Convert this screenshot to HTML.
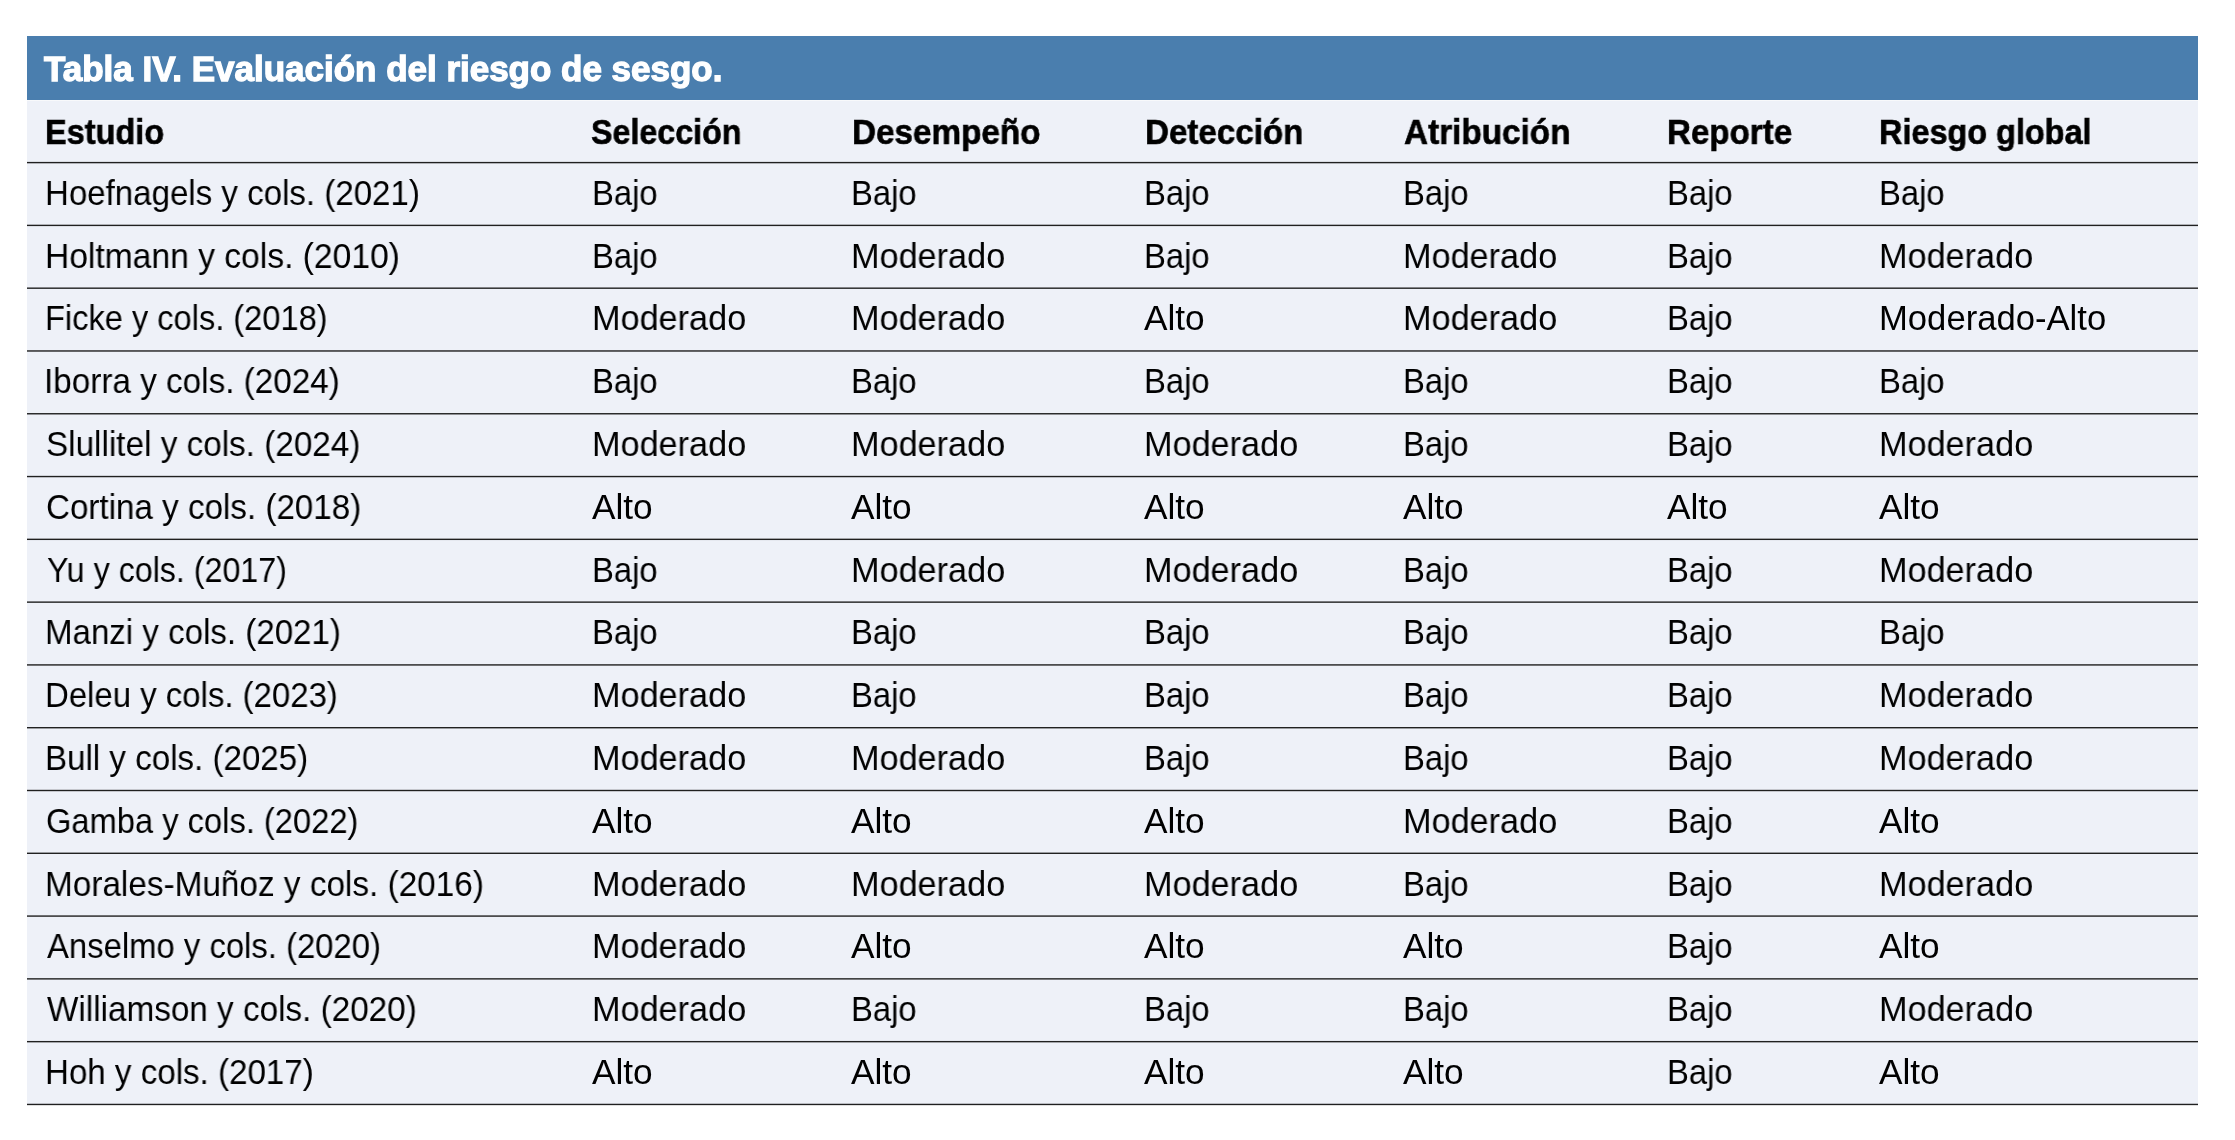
<!DOCTYPE html>
<html><head><meta charset="utf-8"><style>
html,body{margin:0;padding:0;background:#fff;width:2235px;height:1140px;overflow:hidden;}
body{position:relative;font-family:"Liberation Sans",sans-serif;color:#000;}
.blue{position:absolute;left:27px;top:36px;width:2171px;height:64px;background:#4a7eae;}
.bg{position:absolute;left:27px;top:101px;width:2171px;height:1003px;background:#eef1f8;}
.lines{position:absolute;left:0;top:0;}
.gap{position:absolute;left:27px;top:100px;width:2171px;height:1px;background:#f8f9fb;}
.t,.h,.ti{position:absolute;white-space:nowrap;line-height:0;transform-origin:0 0;will-change:transform;}
.t{font-size:34.5px;}
.h{font-size:34.5px;font-weight:bold;-webkit-text-stroke:0.6px #000;}
.ti{font-size:34.5px;font-weight:bold;color:#fff;-webkit-text-stroke:1.3px #fff;}
</style></head><body>
<div class="blue"></div><div class="gap"></div><div class="bg"></div>

<div class="ti" style="left:44.00px;top:68.65px;transform:scaleX(1.0138)">Tabla IV. Evaluación del riesgo de sesgo.</div>
<div class="h" style="left:44.92px;top:131.95px;transform:scaleX(0.9415)">Estudio</div>
<div class="h" style="left:591.07px;top:131.95px;transform:scaleX(0.9341)">Selección</div>
<div class="h" style="left:851.57px;top:131.95px;transform:scaleX(0.9637)">Desempeño</div>
<div class="h" style="left:1144.58px;top:131.95px;transform:scaleX(0.9608)">Detección</div>
<div class="h" style="left:1403.50px;top:131.95px;transform:scaleX(0.9653)">Atribución</div>
<div class="h" style="left:1666.68px;top:131.95px;transform:scaleX(0.9597)">Reporte</div>
<div class="h" style="left:1879.42px;top:131.95px;transform:scaleX(0.9398)">Riesgo global</div>
<svg class="lines" width="2235" height="1140" viewBox="0 0 2235 1140"><rect x="27" y="161.90" width="2171" height="1.40" fill="#202020"/><rect x="27" y="224.69" width="2171" height="1.40" fill="#202020"/><rect x="27" y="287.48" width="2171" height="1.40" fill="#202020"/><rect x="27" y="350.27" width="2171" height="1.40" fill="#202020"/><rect x="27" y="413.06" width="2171" height="1.40" fill="#202020"/><rect x="27" y="475.85" width="2171" height="1.40" fill="#202020"/><rect x="27" y="538.64" width="2171" height="1.40" fill="#202020"/><rect x="27" y="601.43" width="2171" height="1.40" fill="#202020"/><rect x="27" y="664.22" width="2171" height="1.40" fill="#202020"/><rect x="27" y="727.01" width="2171" height="1.40" fill="#202020"/><rect x="27" y="789.80" width="2171" height="1.40" fill="#202020"/><rect x="27" y="852.59" width="2171" height="1.40" fill="#202020"/><rect x="27" y="915.38" width="2171" height="1.40" fill="#202020"/><rect x="27" y="978.17" width="2171" height="1.40" fill="#202020"/><rect x="27" y="1040.96" width="2171" height="1.40" fill="#202020"/><rect x="27" y="1103.75" width="2171" height="1.40" fill="#202020"/></svg>
<div class="t" style="left:44.58px;top:192.85px;transform:scaleX(0.9582)">Hoefnagels y cols. (2021)</div>
<div class="t" style="left:591.60px;top:192.85px;transform:scaleX(0.9505)">Bajo</div>
<div class="t" style="left:851.10px;top:192.85px;transform:scaleX(0.9505)">Bajo</div>
<div class="t" style="left:1143.60px;top:192.85px;transform:scaleX(0.9505)">Bajo</div>
<div class="t" style="left:1403.10px;top:192.85px;transform:scaleX(0.9505)">Bajo</div>
<div class="t" style="left:1666.60px;top:192.85px;transform:scaleX(0.9505)">Bajo</div>
<div class="t" style="left:1879.10px;top:192.85px;transform:scaleX(0.9505)">Bajo</div>
<div class="t" style="left:44.55px;top:255.64px;transform:scaleX(0.9741)">Holtmann y cols. (2010)</div>
<div class="t" style="left:591.60px;top:255.64px;transform:scaleX(0.9505)">Bajo</div>
<div class="t" style="left:851.02px;top:255.64px;transform:scaleX(0.9924)">Moderado</div>
<div class="t" style="left:1143.60px;top:255.64px;transform:scaleX(0.9505)">Bajo</div>
<div class="t" style="left:1403.02px;top:255.64px;transform:scaleX(0.9924)">Moderado</div>
<div class="t" style="left:1666.60px;top:255.64px;transform:scaleX(0.9505)">Bajo</div>
<div class="t" style="left:1879.02px;top:255.64px;transform:scaleX(0.9924)">Moderado</div>
<div class="t" style="left:44.61px;top:318.43px;transform:scaleX(0.9448)">Ficke y cols. (2018)</div>
<div class="t" style="left:591.52px;top:318.43px;transform:scaleX(0.9924)">Moderado</div>
<div class="t" style="left:851.02px;top:318.43px;transform:scaleX(0.9924)">Moderado</div>
<div class="t" style="left:1143.50px;top:318.43px;transform:scaleX(1.0213)">Alto</div>
<div class="t" style="left:1403.02px;top:318.43px;transform:scaleX(0.9924)">Moderado</div>
<div class="t" style="left:1666.60px;top:318.43px;transform:scaleX(0.9505)">Bajo</div>
<div class="t" style="left:1878.99px;top:318.43px;transform:scaleX(1.0040)">Moderado-Alto</div>
<div class="t" style="left:43.61px;top:381.22px;transform:scaleX(0.9643)">Iborra y cols. (2024)</div>
<div class="t" style="left:591.60px;top:381.22px;transform:scaleX(0.9505)">Bajo</div>
<div class="t" style="left:851.10px;top:381.22px;transform:scaleX(0.9505)">Bajo</div>
<div class="t" style="left:1143.60px;top:381.22px;transform:scaleX(0.9505)">Bajo</div>
<div class="t" style="left:1403.10px;top:381.22px;transform:scaleX(0.9505)">Bajo</div>
<div class="t" style="left:1666.60px;top:381.22px;transform:scaleX(0.9505)">Bajo</div>
<div class="t" style="left:1879.10px;top:381.22px;transform:scaleX(0.9505)">Bajo</div>
<div class="t" style="left:45.54px;top:444.01px;transform:scaleX(0.9645)">Slullitel y cols. (2024)</div>
<div class="t" style="left:591.52px;top:444.01px;transform:scaleX(0.9924)">Moderado</div>
<div class="t" style="left:851.02px;top:444.01px;transform:scaleX(0.9924)">Moderado</div>
<div class="t" style="left:1143.52px;top:444.01px;transform:scaleX(0.9924)">Moderado</div>
<div class="t" style="left:1403.10px;top:444.01px;transform:scaleX(0.9505)">Bajo</div>
<div class="t" style="left:1666.60px;top:444.01px;transform:scaleX(0.9505)">Bajo</div>
<div class="t" style="left:1879.02px;top:444.01px;transform:scaleX(0.9924)">Moderado</div>
<div class="t" style="left:45.54px;top:506.80px;transform:scaleX(0.9613)">Cortina y cols. (2018)</div>
<div class="t" style="left:591.50px;top:506.80px;transform:scaleX(1.0213)">Alto</div>
<div class="t" style="left:851.00px;top:506.80px;transform:scaleX(1.0213)">Alto</div>
<div class="t" style="left:1143.50px;top:506.80px;transform:scaleX(1.0213)">Alto</div>
<div class="t" style="left:1403.00px;top:506.80px;transform:scaleX(1.0213)">Alto</div>
<div class="t" style="left:1666.50px;top:506.80px;transform:scaleX(1.0213)">Alto</div>
<div class="t" style="left:1879.00px;top:506.80px;transform:scaleX(1.0213)">Alto</div>
<div class="t" style="left:46.50px;top:569.59px;transform:scaleX(0.9336)">Yu y cols. (2017)</div>
<div class="t" style="left:591.60px;top:569.59px;transform:scaleX(0.9505)">Bajo</div>
<div class="t" style="left:851.02px;top:569.59px;transform:scaleX(0.9924)">Moderado</div>
<div class="t" style="left:1143.52px;top:569.59px;transform:scaleX(0.9924)">Moderado</div>
<div class="t" style="left:1403.10px;top:569.59px;transform:scaleX(0.9505)">Bajo</div>
<div class="t" style="left:1666.60px;top:569.59px;transform:scaleX(0.9505)">Bajo</div>
<div class="t" style="left:1879.02px;top:569.59px;transform:scaleX(0.9924)">Moderado</div>
<div class="t" style="left:44.58px;top:632.38px;transform:scaleX(0.9584)">Manzi y cols. (2021)</div>
<div class="t" style="left:591.60px;top:632.38px;transform:scaleX(0.9505)">Bajo</div>
<div class="t" style="left:851.10px;top:632.38px;transform:scaleX(0.9505)">Bajo</div>
<div class="t" style="left:1143.60px;top:632.38px;transform:scaleX(0.9505)">Bajo</div>
<div class="t" style="left:1403.10px;top:632.38px;transform:scaleX(0.9505)">Bajo</div>
<div class="t" style="left:1666.60px;top:632.38px;transform:scaleX(0.9505)">Bajo</div>
<div class="t" style="left:1879.10px;top:632.38px;transform:scaleX(0.9505)">Bajo</div>
<div class="t" style="left:44.59px;top:695.17px;transform:scaleX(0.9544)">Deleu y cols. (2023)</div>
<div class="t" style="left:591.52px;top:695.17px;transform:scaleX(0.9924)">Moderado</div>
<div class="t" style="left:851.10px;top:695.17px;transform:scaleX(0.9505)">Bajo</div>
<div class="t" style="left:1143.60px;top:695.17px;transform:scaleX(0.9505)">Bajo</div>
<div class="t" style="left:1403.10px;top:695.17px;transform:scaleX(0.9505)">Bajo</div>
<div class="t" style="left:1666.60px;top:695.17px;transform:scaleX(0.9505)">Bajo</div>
<div class="t" style="left:1879.02px;top:695.17px;transform:scaleX(0.9924)">Moderado</div>
<div class="t" style="left:44.58px;top:757.96px;transform:scaleX(0.9597)">Bull y cols. (2025)</div>
<div class="t" style="left:591.52px;top:757.96px;transform:scaleX(0.9924)">Moderado</div>
<div class="t" style="left:851.02px;top:757.96px;transform:scaleX(0.9924)">Moderado</div>
<div class="t" style="left:1143.60px;top:757.96px;transform:scaleX(0.9505)">Bajo</div>
<div class="t" style="left:1403.10px;top:757.96px;transform:scaleX(0.9505)">Bajo</div>
<div class="t" style="left:1666.60px;top:757.96px;transform:scaleX(0.9505)">Bajo</div>
<div class="t" style="left:1879.02px;top:757.96px;transform:scaleX(0.9924)">Moderado</div>
<div class="t" style="left:45.55px;top:820.75px;transform:scaleX(0.9471)">Gamba y cols. (2022)</div>
<div class="t" style="left:591.50px;top:820.75px;transform:scaleX(1.0213)">Alto</div>
<div class="t" style="left:851.00px;top:820.75px;transform:scaleX(1.0213)">Alto</div>
<div class="t" style="left:1143.50px;top:820.75px;transform:scaleX(1.0213)">Alto</div>
<div class="t" style="left:1403.02px;top:820.75px;transform:scaleX(0.9924)">Moderado</div>
<div class="t" style="left:1666.60px;top:820.75px;transform:scaleX(0.9505)">Bajo</div>
<div class="t" style="left:1879.00px;top:820.75px;transform:scaleX(1.0213)">Alto</div>
<div class="t" style="left:44.57px;top:883.54px;transform:scaleX(0.9658)">Morales-Muñoz y cols. (2016)</div>
<div class="t" style="left:591.52px;top:883.54px;transform:scaleX(0.9924)">Moderado</div>
<div class="t" style="left:851.02px;top:883.54px;transform:scaleX(0.9924)">Moderado</div>
<div class="t" style="left:1143.52px;top:883.54px;transform:scaleX(0.9924)">Moderado</div>
<div class="t" style="left:1403.10px;top:883.54px;transform:scaleX(0.9505)">Bajo</div>
<div class="t" style="left:1666.60px;top:883.54px;transform:scaleX(0.9505)">Bajo</div>
<div class="t" style="left:1879.02px;top:883.54px;transform:scaleX(0.9924)">Moderado</div>
<div class="t" style="left:46.50px;top:946.33px;transform:scaleX(0.9516)">Anselmo y cols. (2020)</div>
<div class="t" style="left:591.52px;top:946.33px;transform:scaleX(0.9924)">Moderado</div>
<div class="t" style="left:851.00px;top:946.33px;transform:scaleX(1.0213)">Alto</div>
<div class="t" style="left:1143.50px;top:946.33px;transform:scaleX(1.0213)">Alto</div>
<div class="t" style="left:1403.00px;top:946.33px;transform:scaleX(1.0213)">Alto</div>
<div class="t" style="left:1666.60px;top:946.33px;transform:scaleX(0.9505)">Bajo</div>
<div class="t" style="left:1879.00px;top:946.33px;transform:scaleX(1.0213)">Alto</div>
<div class="t" style="left:46.50px;top:1009.12px;transform:scaleX(0.9643)">Williamson y cols. (2020)</div>
<div class="t" style="left:591.52px;top:1009.12px;transform:scaleX(0.9924)">Moderado</div>
<div class="t" style="left:851.10px;top:1009.12px;transform:scaleX(0.9505)">Bajo</div>
<div class="t" style="left:1143.60px;top:1009.12px;transform:scaleX(0.9505)">Bajo</div>
<div class="t" style="left:1403.10px;top:1009.12px;transform:scaleX(0.9505)">Bajo</div>
<div class="t" style="left:1666.60px;top:1009.12px;transform:scaleX(0.9505)">Bajo</div>
<div class="t" style="left:1879.02px;top:1009.12px;transform:scaleX(0.9924)">Moderado</div>
<div class="t" style="left:44.58px;top:1071.91px;transform:scaleX(0.9600)">Hoh y cols. (2017)</div>
<div class="t" style="left:591.50px;top:1071.91px;transform:scaleX(1.0213)">Alto</div>
<div class="t" style="left:851.00px;top:1071.91px;transform:scaleX(1.0213)">Alto</div>
<div class="t" style="left:1143.50px;top:1071.91px;transform:scaleX(1.0213)">Alto</div>
<div class="t" style="left:1403.00px;top:1071.91px;transform:scaleX(1.0213)">Alto</div>
<div class="t" style="left:1666.60px;top:1071.91px;transform:scaleX(0.9505)">Bajo</div>
<div class="t" style="left:1879.00px;top:1071.91px;transform:scaleX(1.0213)">Alto</div>
</body></html>
